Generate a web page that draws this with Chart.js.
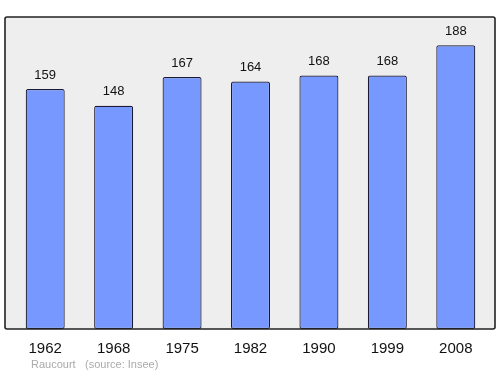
<!DOCTYPE html>
<html>
<head>
<meta charset="utf-8">
<script src="https://cdn.jsdelivr.net/npm/chart.js@4"></script>
<style>
  html, body { margin: 0; padding: 0; background: #fff; }
  #wrap { width: 500px; height: 374px; }
</style>
</head>
<body>
<div id="wrap"><canvas id="popChart" width="500" height="374"></canvas></div>
<script>
// Données : population de Raucourt
const years = ['1962', '1968', '1975', '1982', '1990', '1999', '2008'];
const population = [159, 148, 167, 164, 168, 168, 188];
const yMax = 188 * 1.1;

// Cadre gris + bordure autour de la zone du graphique
const framePlugin = {
  id: 'frame',
  beforeDatasetsDraw(chart) {
    const { ctx, chartArea } = chart;
    ctx.save();
    ctx.fillStyle = '#eeeeee';
    ctx.fillRect(chartArea.left - 6, chartArea.top, chartArea.width + 11, chartArea.height);
    ctx.restore();
  },
  afterDatasetsDraw(chart) {
    const { ctx, chartArea } = chart;
    ctx.save();
    ctx.strokeStyle = '#222222';
    ctx.lineWidth = 1.6;
    ctx.beginPath();
    ctx.roundRect(chartArea.left - 6, chartArea.top, chartArea.width + 11, chartArea.height, 2);
    ctx.stroke();

    // valeurs au-dessus des barres
    ctx.fillStyle = '#111111';
    ctx.font = '13px "Liberation Sans", Arial, sans-serif';
    ctx.textAlign = 'center';
    ctx.textBaseline = 'middle';
    chart.getDatasetMeta(0).data.forEach((bar, i) => {
      ctx.fillText(population[i], bar.x, bar.y - 14);
    });

    // source
    ctx.fillStyle = '#aaaaaa';
    ctx.font = '11px "Liberation Sans", Arial, sans-serif';
    ctx.textAlign = 'left';
    ctx.fillText('Raucourt', 31, 365);
    ctx.fillText('(source: Insee)', 85, 365);
    ctx.restore();
  }
};

new Chart(document.getElementById('popChart'), {
  type: 'bar',
  data: {
    labels: years,
    datasets: [{
      data: population,
      backgroundColor: '#7799ff',
      borderColor: '#1a1a33',
      borderWidth: 1.2,
      borderRadius: 2,
      borderSkipped: false,
      categoryPercentage: 1,
      barPercentage: 0.57
    }]
  },
  options: {
    responsive: false,
    animation: false,
    layout: { padding: { left: 11, right: 10, top: 17, bottom: 0 } },
    plugins: {
      legend: { display: false },
      tooltip: { enabled: false }
    },
    scales: {
      x: {
        grid: { display: false },
        border: { display: false },
        ticks: {
          color: '#111111',
          padding: 3,
          font: { family: '"Liberation Sans", Arial, sans-serif', size: 15 }
        },
        afterFit(scale) { scale.height = 45; }
      },
      y: {
        display: false,
        min: 0,
        max: yMax
      }
    }
  },
  plugins: [framePlugin]
});
</script>
</body>
</html>
